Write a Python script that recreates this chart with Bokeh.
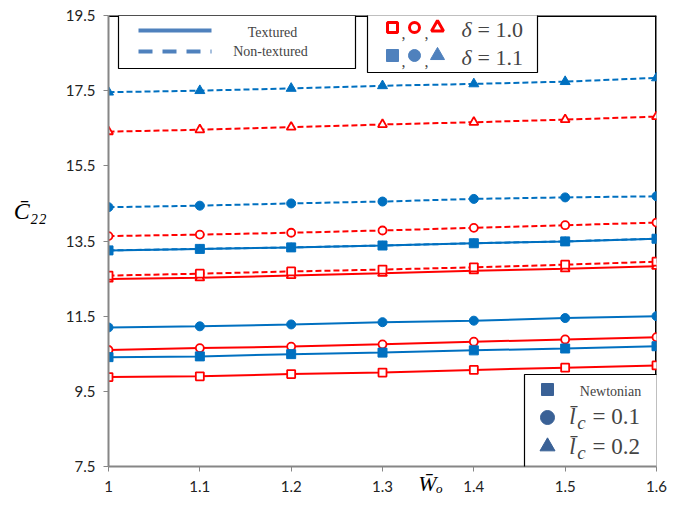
from bokeh.plotting import figure
from bokeh.models import (Range1d, FixedTicker, CustomJSTickFormatter, Span,
                          BoxAnnotation, Label, LinearAxis)
from bokeh.embed import file_html
from bokeh.resources import INLINE

# ---------------- data ----------------
W_o = [1.0, 1.1, 1.2, 1.3, 1.4, 1.5, 1.6]
x_ticks = [1.0, 1.1, 1.2, 1.3, 1.4, 1.5, 1.6]
y_ticks = [7.5, 9.5, 11.5, 13.5, 15.5, 17.5, 19.5]
y_title = "C\u0304\u2082\u2082"
x_title = "W\u0304\u2092"

# delta = 1.0 (red, open markers)
d10_newt_tex = [9.88, 9.90, 9.96, 10.00, 10.07, 10.13, 10.19]
d10_lc01_tex = [10.60, 10.65, 10.69, 10.75, 10.82, 10.88, 10.94]
d10_lc02_tex = [12.49, 12.52, 12.58, 12.64, 12.71, 12.76, 12.83]
d10_newt_non = [12.58, 12.63, 12.69, 12.74, 12.80, 12.87, 12.95]
d10_lc01_non = [13.63, 13.67, 13.72, 13.78, 13.85, 13.92, 13.99]
d10_lc02_non = [16.41, 16.46, 16.53, 16.60, 16.66, 16.73, 16.81]

# delta = 1.1 (blue, filled markers)
d11_newt_tex = [10.41, 10.43, 10.49, 10.53, 10.59, 10.64, 10.70]
d11_lc01_tex = [11.20, 11.23, 11.28, 11.34, 11.38, 11.45, 11.50]
d11_lc02_tex = [13.25, 13.29, 13.33, 13.38, 13.44, 13.49, 13.56]
d11_newt_non = [13.25, 13.29, 13.33, 13.38, 13.44, 13.49, 13.56]
d11_lc01_non = [14.40, 14.44, 14.50, 14.55, 14.62, 14.66, 14.69]
d11_lc02_non = [17.46, 17.50, 17.56, 17.63, 17.68, 17.74, 17.84]

RED = "#FF0000"
BLUE = "#0070C0"
LEG_BLUE = "#4F81BD"
DARK_BLUE = "#3A6196"
GRAY = "#868686"
SERIF = "Liberation Serif"

X0, X1 = 1.0, 1.6
Y0, Y1 = 7.5, 19.5

p = figure(width=676, height=500, output_backend="svg", toolbar_location=None,
           x_range=Range1d(X0, X1), y_range=Range1d(Y0, Y1),
           min_border_left=108, min_border_right=20, min_border_top=15,
           min_border_bottom=34)
p.outline_line_color = None
p.xgrid.visible = False
p.ygrid.visible = False
p.background_fill_color = "white"

for ax in (p.xaxis[0], p.yaxis[0]):
    ax.axis_line_color = GRAY
    ax.axis_line_width = 2
    ax.major_tick_line_color = GRAY
    ax.major_tick_out = 5
    ax.major_tick_in = 0
    ax.minor_tick_line_color = None
    ax.major_label_text_font = "Lato"
    ax.major_label_text_font_size = "15px"
    ax.major_label_text_color = "#222222"
p.yaxis.ticker = FixedTicker(ticks=y_ticks)
p.xaxis.ticker = FixedTicker(ticks=x_ticks)
p.xaxis.formatter = CustomJSTickFormatter(code="return (Math.round(tick*10)/10).toString();")
p.yaxis.major_label_standoff = 8
p.xaxis.major_label_standoff = 9

# page-pixel helpers for annotation placement (frame: x 108..656, y 15..466)
def dx(px):
    return X0 + (px - 108) * (X1 - X0) / 548.0

def dy(py):
    return Y1 - (py - 15) * (Y1 - Y0) / 451.0

# axis titles as label-only axes (drawn outside the frame)
def title_axis(pos, text, standoff, size):
    return LinearAxis(ticker=FixedTicker(ticks=[pos]),
                      formatter=CustomJSTickFormatter(args=dict(t=text), code="return t;"),
                      axis_line_color=None, major_tick_line_color=None,
                      minor_tick_line_color=None, major_tick_out=0, major_tick_in=0,
                      major_label_standoff=standoff, major_label_text_font=SERIF,
                      major_label_text_font_style="italic",
                      major_label_text_font_size=size,
                      major_label_text_color="black")

p.add_layout(title_axis(dy(210), y_title, 16, "24px"), "left")
p.add_layout(title_axis(dx(430), x_title, -24, "22px"), "below")

# top/right black border
p.add_layout(Span(location=Y1, dimension="width", line_color="black", line_width=3, level="underlay"))
p.add_layout(Span(location=X1, dimension="height", line_color="black", line_width=3, level="underlay"))

# legend boxes: white fill below the marks, outline on top
boxes = [(118, 355, 15, 68), (367, 537, 9, 72), (524, 672, 374, 472)]
for (l, r, t, b) in boxes:
    p.add_layout(BoxAnnotation(left=dx(l), right=dx(r), top=dy(t), bottom=dy(b),
                               fill_color="white", fill_alpha=1.0,
                               line_color=None, level="underlay"))
    p.add_layout(BoxAnnotation(left=dx(l), right=dx(r), top=dy(t), bottom=dy(b),
                               fill_alpha=0.0, line_color="black", line_width=1.2,
                               line_alpha=1.0, level="overlay"))

DASH = "6 3"

def series(vals, color, marker, dashed, filled, size):
    p.line(W_o, vals, line_color=color, line_width=2,
           line_dash=DASH if dashed else "solid")
    if filled:
        p.scatter(W_o, vals, marker=marker, size=size, fill_color=color,
                  line_color=color, line_width=1)
    else:
        p.scatter(W_o, vals, marker=marker, size=size, fill_color="white",
                  line_color=color, line_width=1.8)

# red (delta = 1.0)
series(d10_newt_tex, RED, "square", False, False, 8)
series(d10_lc01_tex, RED, "circle", False, False, 8)
series(d10_lc02_tex, RED, "triangle", False, False, 9)
series(d10_newt_non, RED, "square", True, False, 8)
series(d10_lc01_non, RED, "circle", True, False, 8)
series(d10_lc02_non, RED, "triangle", True, False, 9)
# blue (delta = 1.1)
series(d11_newt_tex, BLUE, "square", False, True, 9)
series(d11_lc01_tex, BLUE, "circle", False, True, 9)
series(d11_lc02_tex, BLUE, "triangle", False, True, 8)
series(d11_newt_non, BLUE, "square", True, True, 9)
series(d11_lc01_non, BLUE, "circle", True, True, 9)
series(d11_lc02_non, BLUE, "triangle", True, True, 10)

# ---- legend 1: line styles ----
p.line([dx(138), dx(211)], [dy(30), dy(30)], line_color=LEG_BLUE, line_width=4)
p.line([dx(138), dx(211)], [dy(51), dy(51)], line_color=LEG_BLUE, line_width=4, line_dash="14 10")
p.add_layout(Label(x=dx(272), y=dy(32), text="Textured", text_font=SERIF,
                   text_font_size="14px", text_align="center", text_baseline="middle"))
p.add_layout(Label(x=dx(270), y=dy(51), text="Non-textured", text_font=SERIF,
                   text_font_size="14px", text_align="center", text_baseline="middle"))

# ---- legend 2: delta markers ----
leg_mx = [dx(392), dx(414), dx(437)]
leg_mk = ["square", "circle", "triangle"]
for mx, mk in zip(leg_mx, leg_mk):
    p.scatter([mx], [dy(27)], marker=mk, size=10 if mk != "triangle" else 12,
              fill_color="white", line_color=RED, line_width=3)
    p.scatter([mx], [dy(55)], marker=mk, size=12 if mk != "triangle" else 14,
              fill_color=LEG_BLUE, line_color=LEG_BLUE, line_width=1)
for cx in (403, 426):
    for cy in (33, 61):
        p.add_layout(Label(x=dx(cx), y=dy(cy), text=",", text_font=SERIF,
                           text_font_size="16px", text_align="center", text_baseline="middle"))
for ty, txt in ((29, "= 1.0"), (57, "= 1.1")):
    p.add_layout(Label(x=dx(466), y=dy(ty), text="δ", text_font=SERIF,
                       text_font_style="italic", text_font_size="22px",
                       text_align="center", text_baseline="middle"))
    p.add_layout(Label(x=dx(477), y=dy(ty), text=txt, text_font=SERIF,
                       text_font_size="22px", text_align="left", text_baseline="middle"))

# ---- legend 3: marker shapes ----
p.scatter([dx(547)], [dy(389)], marker="square", size=12, fill_color=DARK_BLUE,
          line_color=DARK_BLUE)
p.scatter([dx(547)], [dy(417)], marker="circle", size=14, fill_color=DARK_BLUE,
          line_color=DARK_BLUE)
p.scatter([dx(547)], [dy(446)], marker="triangle", size=15, fill_color=DARK_BLUE,
          line_color=DARK_BLUE)
p.add_layout(Label(x=dx(610), y=dy(391), text="Newtonian", text_font=SERIF,
                   text_font_size="14px", text_align="center", text_baseline="middle"))
for ty, txt in ((416, "= 0.1"), (446, "= 0.2")):
    p.add_layout(Label(x=dx(572), y=dy(ty), text="l̄", text_font=SERIF,
                       text_font_style="italic", text_font_size="23px",
                       text_align="center", text_baseline="middle"))
    p.add_layout(Label(x=dx(581), y=dy(ty + 6), text="c", text_font=SERIF,
                       text_font_style="italic", text_font_size="19px",
                       text_align="center", text_baseline="middle"))
    p.add_layout(Label(x=dx(592), y=dy(ty), text=txt, text_font=SERIF,
                       text_font_size="23px", text_align="left", text_baseline="middle"))

open("out.html", "w").write(file_html(p, INLINE))
